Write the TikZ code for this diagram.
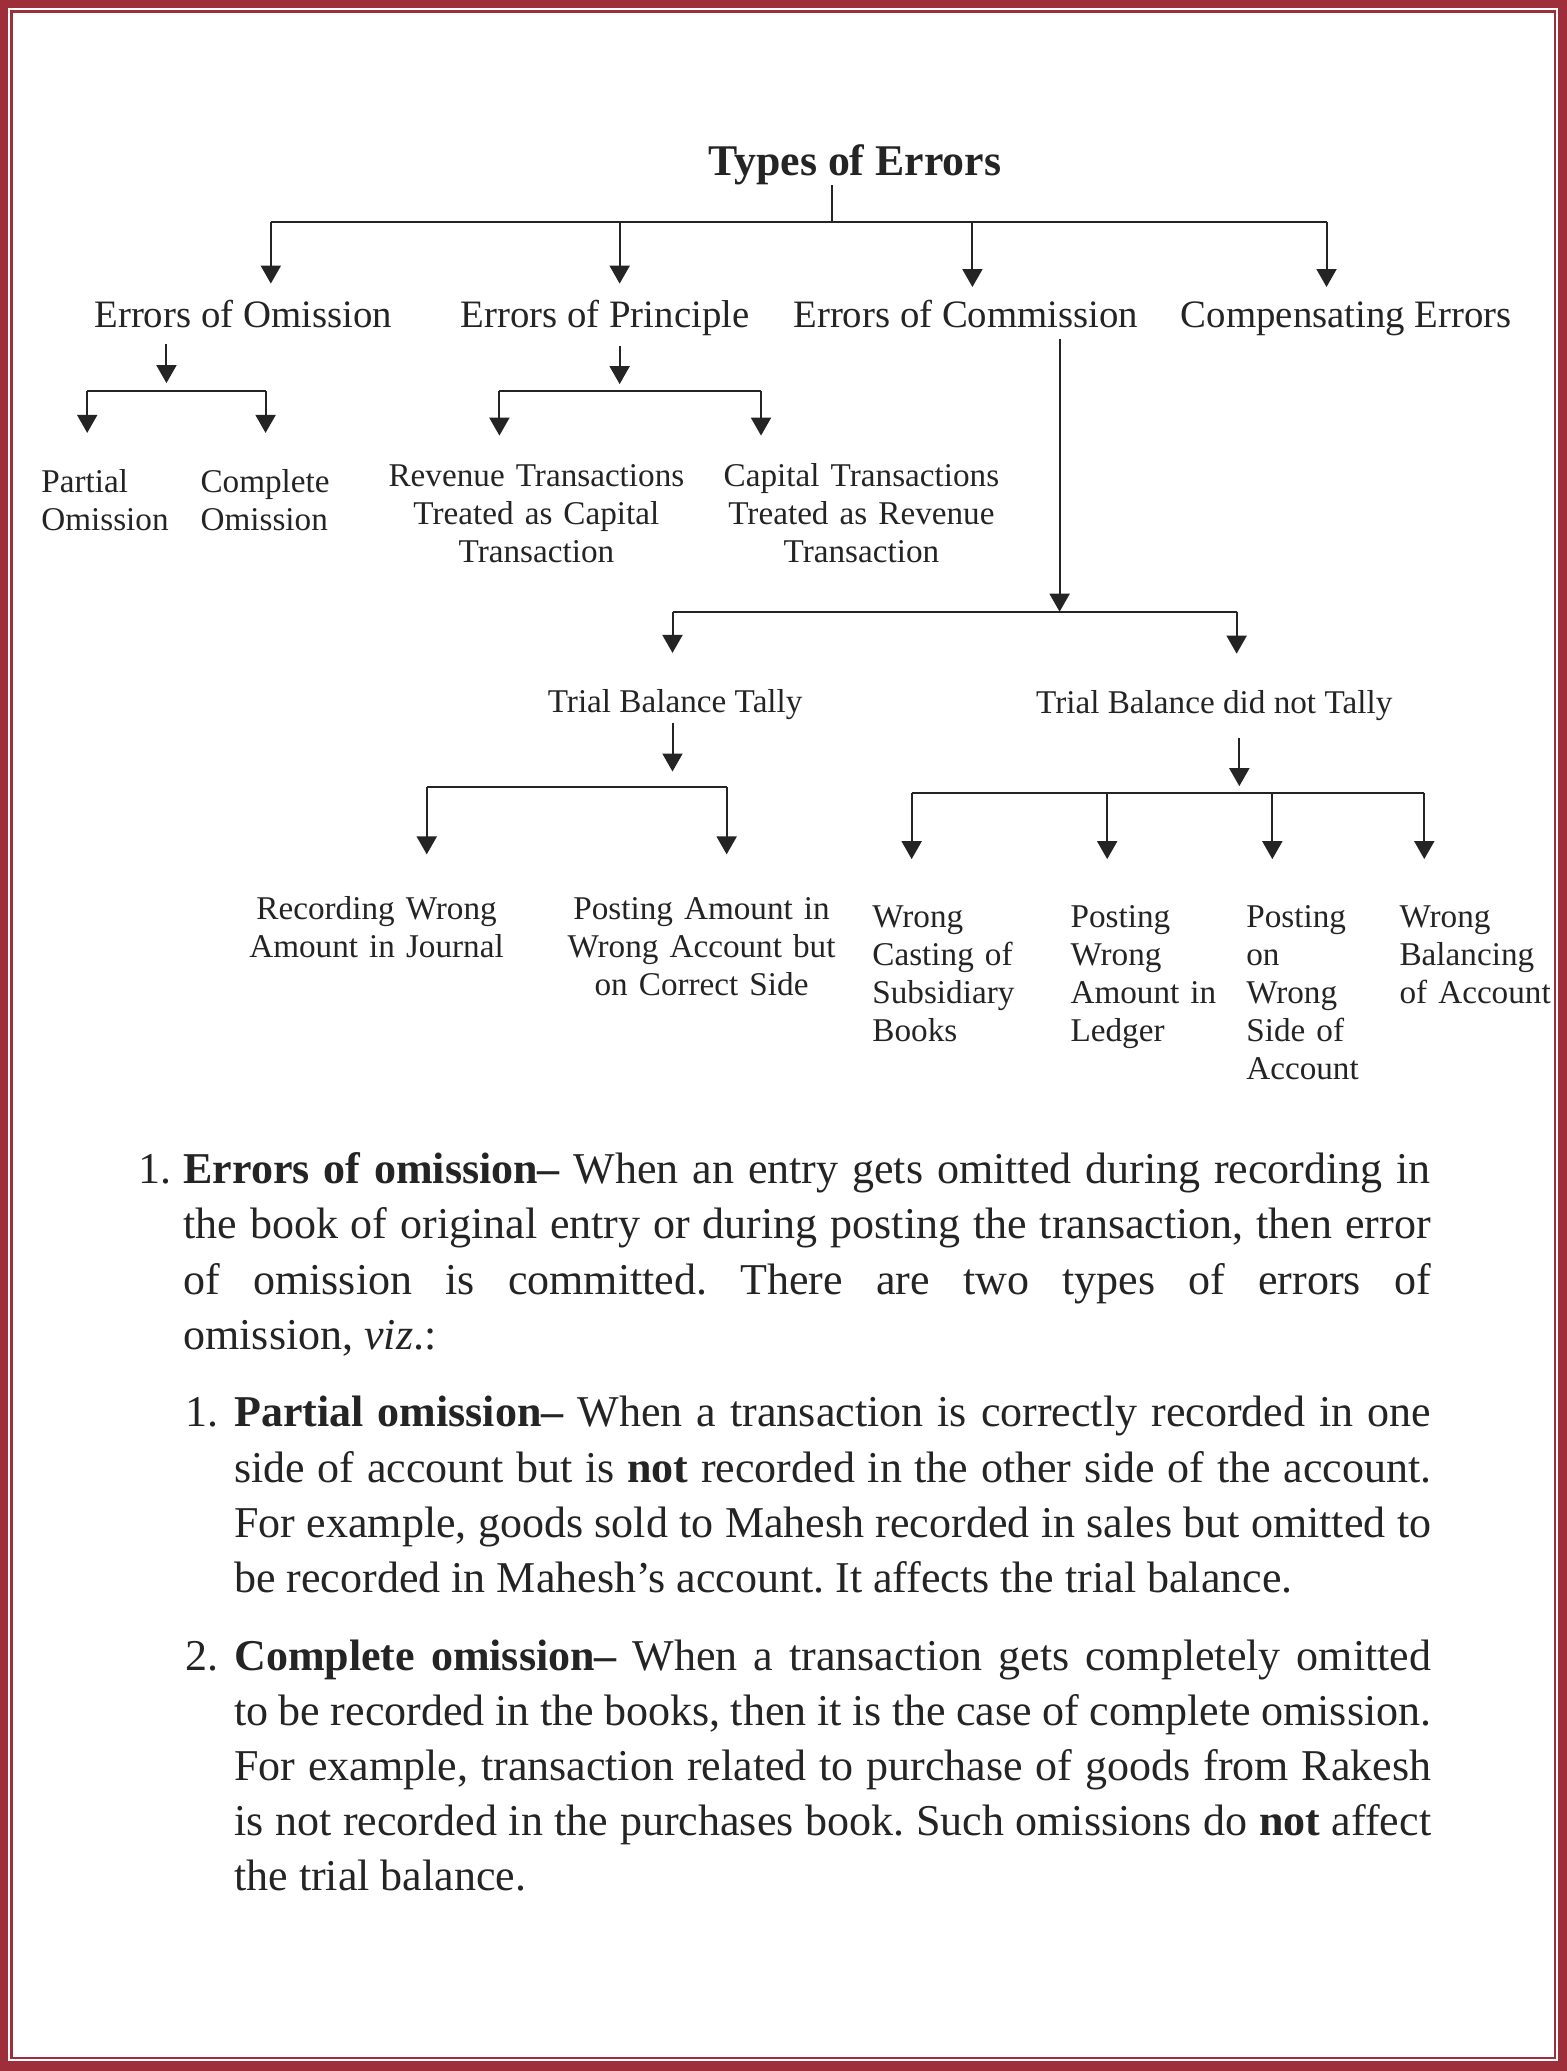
\documentclass[tikz,border=0pt]{standalone}
\usepackage{fontspec}
\setmainfont{Liberation Serif}
\usetikzlibrary{arrows.meta}
\definecolor{bord}{RGB}{158,46,58}
\definecolor{inkc}{RGB}{36,36,36}
\hyphenpenalty=10000
\exhyphenpenalty=10000
\frenchspacing
\tikzset{
  ink/.style={draw=inkc, line width=1pt},
  arr/.style={ink, -{Triangle[width=10pt,length=9pt]}},
  ttl/.style={font=\fontsize{21.9}{26}\selectfont\bfseries, anchor=base, inner sep=0pt, text=inkc},
  lvl/.style={font=\fontsize{19.4}{23}\selectfont, anchor=base, inner sep=0pt, text height=13.5pt, text depth=4.5pt, text=inkc},
  small/.style={font=\fontsize{16.6}{19}\selectfont, inner sep=0pt, text height=11.5pt, text=inkc},
  smallc/.style={small, anchor=base, text width=200pt, align=center},
  smalll/.style={small, anchor=base west, text width=100pt, align=left},
  smalls/.style={small, anchor=base, text depth=3.6pt},
  body/.style={font=\fontsize{22}{27.55}\selectfont\frenchspacing, inner sep=0pt, anchor=base west, align=justify, text=inkc},
  numst/.style={font=\fontsize{22}{27.55}\selectfont, inner sep=0pt, anchor=base west, text=inkc}
}
\begin{document}
\begin{tikzpicture}[x=0.6606pt,y=-0.6606pt]
\useasboundingbox (0,0) rectangle (1186,1567.5);
% frame
\fill[bord] (0,0) rectangle (1186,1567.5);
\fill[white] (6,6) rectangle (1179.2,1560);
\draw[bord, line width=1.25pt] (8.7,8.7) rectangle (1177,1557.7);

% top level
\node[ttl] (title) at (647,132.5) {Types of Errors};
\node[lvl] (om) at (184,247.5) {Errors of Omission};
\node[lvl] (pr) at (458,247.5) {Errors of Principle};
\node[lvl] (co) at (731,247.5) {Errors of Commission};
\node[lvl] (cp) at (1019,247.5) {Compensating Errors};

% second level
\node[smalll] (part) at (31,372.6) {Partial\\Omission};
\node[smalll] (comp) at (151.5,372.6) {Complete\\Omission};
\node[smallc] (rev) at (406,368) {Revenue Transactions\\Treated as Capital\\Transaction};
\node[smallc] (cap) at (652,368) {Capital Transactions\\Treated as Revenue\\Transaction};
\node[smalls] (tally) at (511,539) {Trial Balance Tally};
\node[smalls] (ntally) at (919,540) {Trial Balance did not Tally};
\node[smallc] (rec) at (285,696) {Recording Wrong\\Amount in Journal};
\node[smallc] (pwa) at (531,696) {Posting Amount in\\Wrong Account but\\on Correct Side};
\node[smalll] (wcs) at (660,702) {Wrong\\Casting of\\Subsidiary\\Books};
\node[smalll] (pwl) at (810,702) {Posting\\Wrong\\Amount in\\Ledger};
\node[smalll] (pws) at (943,702) {Posting\\on\\Wrong\\Side of\\Account};
\node[smalll] (wba) at (1059,702) {Wrong\\Balancing\\of Account};

% connectors from title
\coordinate (h0) at (630,168);
\coordinate (hA) at (205,168);
\coordinate (hB) at (469,168);
\coordinate (hC) at (736,168);
\coordinate (hD) at (1004,168);
\draw[ink] (title.south -| h0) -- (h0);
\draw[ink] (hA) -- (hD);
\draw[arr, shorten >=8pt] (hA) -- (hA |- om.north);
\draw[arr, shorten >=8pt] (hB) -- (hB |- pr.north);
\draw[arr, shorten >=6.3pt] (hC) -- (hC |- co.north);
\draw[arr, shorten >=6.3pt] (hD) -- (hD |- cp.north);

% omission
\coordinate (oj) at (126,296);
\coordinate (oL) at (66,296);
\coordinate (oR) at (201,296);
\draw[arr, shorten <=4pt, shorten >=4pt] (om.south -| oj) -- (oj);
\draw[ink] (oL) -- (oR);
\draw[arr, shorten >=18pt] (oL) -- (oL |- part.north);
\draw[arr, shorten >=18pt] (oR) -- (oR |- comp.north);

% principle
\coordinate (pj) at (469,296);
\coordinate (pL) at (378,296);
\coordinate (pR) at (576,296);
\draw[arr, shorten <=5pt, shorten >=3.5pt] (pr.south -| pj) -- (pj);
\draw[ink] (pL) -- (pR);
\draw[arr, shorten >=13.6pt] (pL) -- (pL |- rev.north);
\draw[arr, shorten >=13.6pt] (pR) -- (pR |- cap.north);

% commission
\coordinate (cj) at (802,463);
\coordinate (cL) at (509,463);
\coordinate (cR) at (936,463);
\draw[arr, shorten <=1.3pt] (co.south -| cj) -- (cj);
\draw[ink] (cL) -- (cR);
\draw[arr, shorten >=17.9pt] (cL) -- (cL |- tally.north);
\draw[arr, shorten >=18.2pt] (cR) -- (cR |- ntally.north);

% tally
\coordinate (tj) at (509,595.6);
\coordinate (tL) at (323,595.6);
\coordinate (tR) at (550,595.6);
\draw[arr, shorten <=1.6pt, shorten >=7.7pt] (tally.south -| tj) -- (tj);
\draw[ink] (tL) -- (tR);
\draw[arr, shorten >=20.9pt] (tL) -- (tL |- rec.north);
\draw[arr, shorten >=20.9pt] (tR) -- (tR |- pwa.north);

% did not tally
\coordinate (nj) at (938,600);
\coordinate (nA) at (690,600);
\coordinate (nB) at (838,600);
\coordinate (nC) at (963,600);
\coordinate (nD) at (1078,600);
\draw[arr, shorten <=8.3pt, shorten >=3.3pt] (ntally.south -| nj) -- (nj);
\draw[ink] (nA) -- (nD);
\draw[arr, shorten >=22.5pt] (nA) -- (nA |- wcs.north);
\draw[arr, shorten >=22.5pt] (nB) -- (nB |- pwl.north);
\draw[arr, shorten >=22.5pt] (nC) -- (nC |- pws.north);
\draw[arr, shorten >=22.5pt] (nD) -- (nD |- wba.north);

% body text
\node[numst] (n1) at (104.5,896) {1.};
\node[body, text width=623.6pt] (p1) at (138.6,896) {\textbf{Errors of omission–} When an entry gets omitted during recording in\linebreak the book of original entry or during posting the transaction, then error\linebreak of omission is committed. There are two types of errors of\linebreak omission, \textit{viz}.:};
\node[numst] (n11) at (140,1080) {1.};
\node[body, text width=598.5pt] (p11) at (177,1080) {\textbf{Partial omission–} When a transaction is correctly recorded in one\linebreak side of account but is \textbf{not} recorded in the other side of the account.\linebreak For example, goods sold to Mahesh recorded in sales but omitted to\linebreak be recorded in Mahesh’s account. It affects the trial balance.};
\node[numst] (n12) at (140,1264) {2.};
\node[body, text width=598.5pt] (p12) at (177,1264) {\textbf{Complete omission–} When a transaction gets completely omitted\linebreak to be recorded in the books, then it is the case of complete omission.\linebreak For example, transaction related to purchase of goods from Rakesh\linebreak is not recorded in the purchases book. Such omissions do \textbf{not} affect\linebreak the trial balance.};
\end{tikzpicture}
\end{document}
